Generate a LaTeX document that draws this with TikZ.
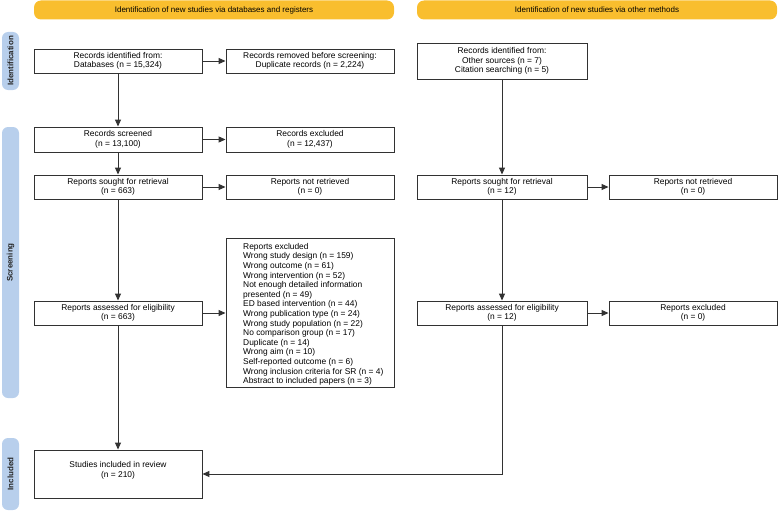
\documentclass[tikz,border=0pt]{standalone}
\usepackage{fontspec}
\setmainfont{Liberation Sans}
\usetikzlibrary{arrows.meta,positioning,calc}
\definecolor{hdrcol}{RGB}{249,190,46}
\definecolor{sidecol}{RGB}{184,207,236}
\definecolor{linecol}{RGB}{50,50,50}
\begin{document}
\begin{tikzpicture}[x=1pt,y=-1pt,
  txt/.style={font=\fontsize{8.4}{9.6}\selectfont},
  box/.style={txt,draw=linecol,line width=0.9pt,fill=white,inner sep=0pt,align=center,minimum width=168pt,minimum height=24pt},
  rbox/.style={box,minimum width=170pt},
  hdr/.style={fill=hdrcol,rounded corners=7pt,minimum width=360pt,minimum height=19pt,inner sep=0pt,font=\fontsize{8}{9.6}\selectfont},
  side/.style={fill=sidecol,rounded corners=6pt,minimum height=17pt,inner sep=0pt,rotate=90,font=\fontsize{8}{9.6}\selectfont\bfseries,text=black!85},
  arr/.style={draw=linecol,line width=1pt,-{Triangle[length=7pt,width=6pt]}},
  ln/.style={draw=linecol,line width=1pt}
]
\useasboundingbox (0,0) rectangle (778,511);
% headers
\node[hdr] (hdrL) at (214,10) {Identification of new studies via databases and registers};
\node[hdr] (hdrR) at (597,10) {Identification of new studies via other methods};
% side bars
\node[side,minimum width=58pt] (sideI) at (10.5,61) {Identification};
\node[side,minimum width=271pt] (sideS) at (10.5,262.5) {Screening};
\node[side,minimum width=72pt] (sideN) at (10.5,474) {Included};
% left column
\node[box] (id1) at (118,61) {Records identified from:\\Databases (n = 15,324)};
\node[box] (rem1) at (310,61) {Records removed before screening:\\Duplicate records (n = 2,224)};
\node[box,minimum height=25pt] (scr) at (118,139.5) {Records screened\\(n = 13,100)};
\node[box,minimum height=25pt] (exc1) at (310,139.5) {Records excluded\\(n = 12,437)};
\node[box] (sou1) at (118,187) {Reports sought for retrieval\\(n = 663)};
\node[box] (nr1) at (310,187) {Reports not retrieved\\(n = 0)};
\node[box] (ass1) at (118,313) {Reports assessed for eligibility\\(n = 663)};
\node[box,minimum height=149pt] (exl) at (310,312.5) {};
\node[txt,anchor=north west,align=left,inner sep=0pt] (exltxt) at (243,243) {Reports excluded\\
Wrong study design (n = 159)\\
Wrong outcome (n = 61)\\
Wrong intervention (n = 52)\\
Not enough detailed information\\
presented (n = 49)\\
ED based intervention (n = 44)\\
Wrong publication type (n = 24)\\
Wrong study population (n = 22)\\
No comparison group (n = 17)\\
Duplicate (n = 14)\\
Wrong aim (n = 10)\\
Self-reported outcome (n = 6)\\
Wrong inclusion criteria for SR (n = 4)\\
Abstract to included papers (n = 3)};
\node[box,minimum height=48pt] (inc) at (118,474) {Studies included in review\\(n = 210)\\\mbox{}};
% right column
\node[rbox,minimum height=36pt] (id2) at (502,61) {Records identified from:\\Other sources (n = 7)\\Citation searching (n = 5)};
\node[rbox] (sou2) at (502,187) {Reports sought for retrieval\\(n = 12)};
\node[box] (nr2) at (693,187) {Reports not retrieved\\(n = 0)};
\node[rbox] (ass2) at (502,313) {Reports assessed for eligibility\\(n = 12)};
\node[box] (ex2) at (693,313) {Reports excluded\\(n = 0)};
% connectors
\draw[arr] (id1) -- (rem1);
\draw[arr] (id1) -- (scr);
\draw[arr] (scr) -- (exc1);
\draw[arr] (scr) -- (sou1);
\draw[arr] (sou1) -- (nr1);
\draw[arr] (sou1) -- (ass1);
\draw[arr] (ass1.east) -- (ass1.east -| exl.west);
\draw[arr] (ass1) -- (inc);
\draw[arr] (id2) -- (sou2);
\draw[arr] (sou2) -- (nr2);
\draw[arr] (sou2) -- (ass2);
\draw[arr] (ass2) -- (ex2);
\draw[arr] (ass2.south) -- (ass2.south |- inc.east) -- (inc.east);
\end{tikzpicture}
\end{document}
